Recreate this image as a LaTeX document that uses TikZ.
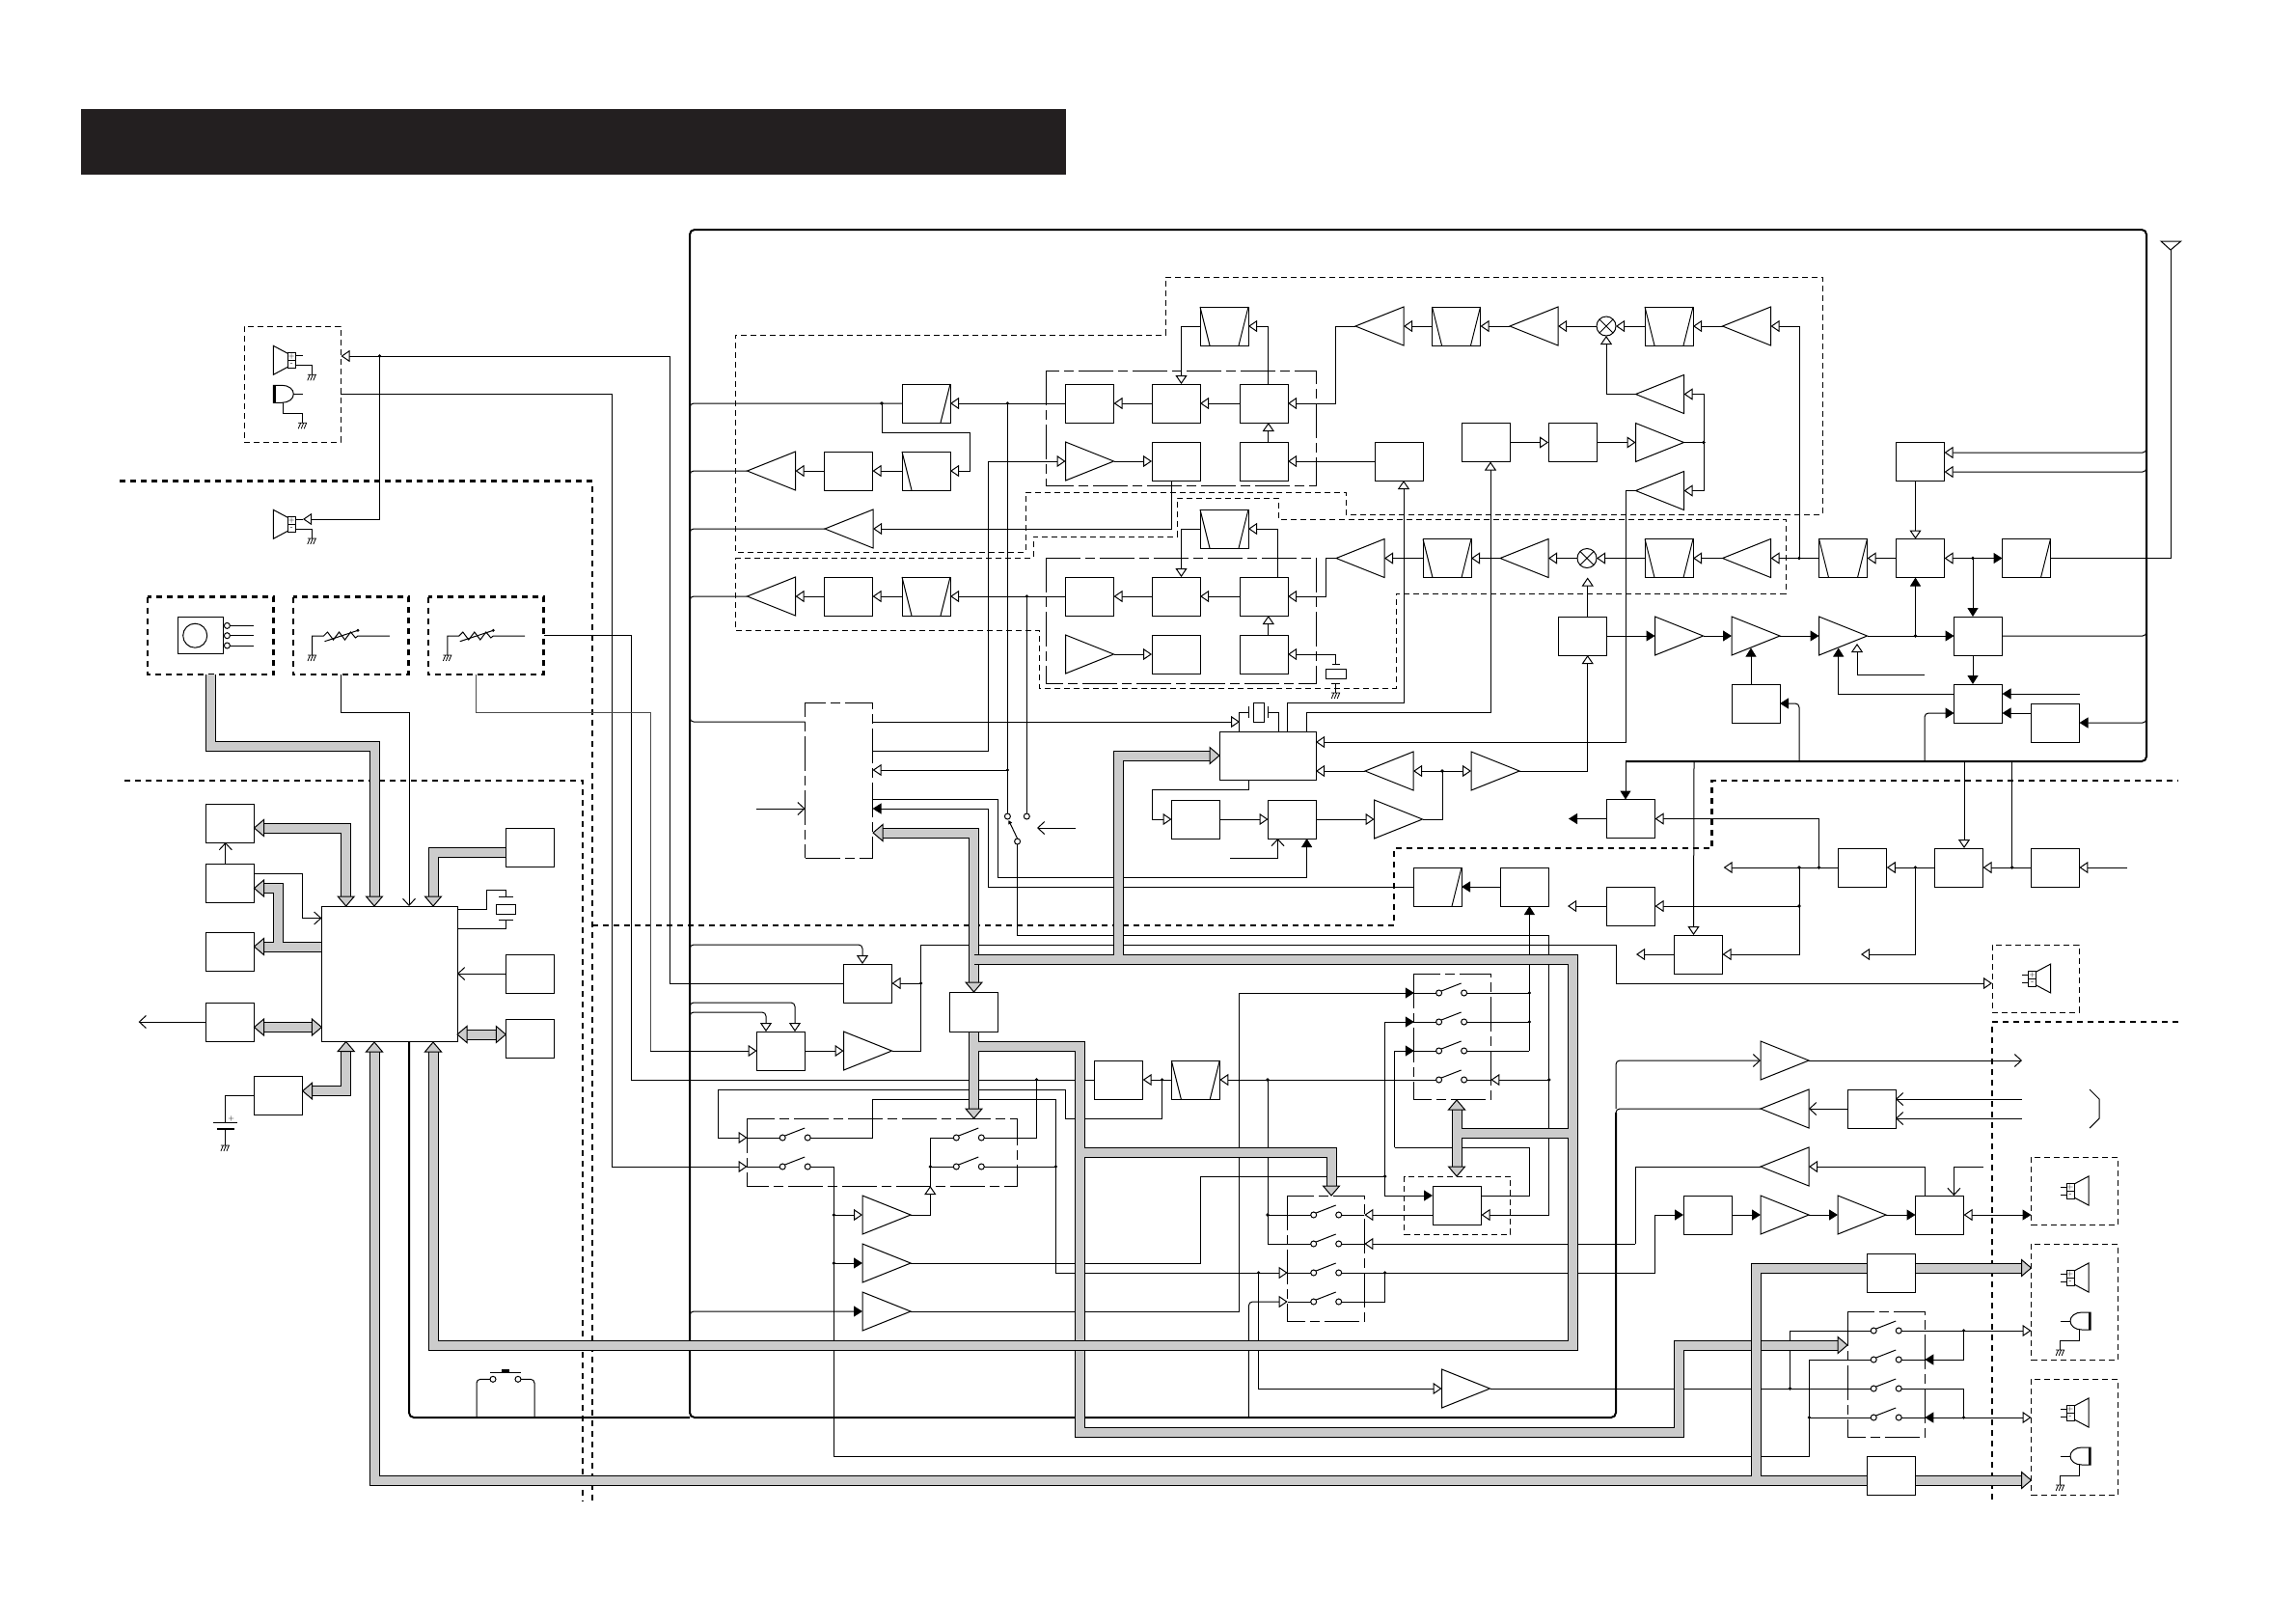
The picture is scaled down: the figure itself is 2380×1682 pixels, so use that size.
\documentclass[tikz,border=0pt]{standalone}
\usetikzlibrary{arrows.meta,calc}
\definecolor{busgrey}{HTML}{CCCCCC}
\definecolor{barcol}{HTML}{231F20}
\tikzset{
  base/.style={line width=1pt,line join=miter},
  blk/.style={draw,fill=white,minimum width=50pt,minimum height=40pt,inner sep=0pt,outer sep=0pt,rectangle},
  inv/.style={minimum width=50pt,minimum height=40pt,inner sep=0pt,outer sep=0pt,rectangle},
  cnt/.style={circle,draw,fill=white,minimum size=6pt,inner sep=0pt,outer sep=0pt},
  mixnode/.style={circle,draw,fill=white,minimum size=20pt,inner sep=0pt,outer sep=0pt},
  dsh/.style={dash pattern=on 6pt off 4pt,line width=.9pt},
  dshk/.style={dash pattern=on 6pt off 5pt,line width=2.4pt},
  ddot/.style={dash pattern=on 36pt off 5pt on 10pt off 5pt,line width=.9pt},
  opa/.style={-{Triangle[fill=white,length=9pt,width=12pt]}},
  fla/.style={-{Triangle[length=9pt,width=11pt]}},
  vba/.style={-{Straight Barb[length=7pt,width=13pt]}},
  rc/.style={rounded corners=4pt},
  frm/.style={line width=2pt,rounded corners=5pt},
}
\newcommand{\Bx}[3]{\node[blk] (#1) at (#2,#3) {};}
\newcommand{\BxS}[5]{\node[blk,minimum width=#4pt,minimum height=#5pt] (#1) at (#2,#3) {};}
\newcommand{\TrL}[3]{\node[inv] (#1) at (#2,#3) {};\draw (#1.north east) -- (#1.west) -- (#1.south east) -- cycle;}
\newcommand{\TrR}[3]{\node[inv] (#1) at (#2,#3) {};\draw (#1.north west) -- (#1.east) -- (#1.south west) -- cycle;}
\newcommand{\Tz}[3]{\Bx{#1}{#2}{#3}\draw (#1.north west) -- ($(#1.south west)+(10,0)$) (#1.north east) -- ($(#1.south east)+(-10,0)$);}
\newcommand{\TzR}[3]{\Bx{#1}{#2}{#3}\draw (#1.north east) -- ($(#1.south east)+(-10,0)$);}
\newcommand{\TzL}[3]{\Bx{#1}{#2}{#3}\draw (#1.north west) -- ($(#1.south west)+(10,0)$);}
\newcommand{\Mx}[3]{\node[mixnode] (#1) at (#2,#3) {};\draw (#1.north west) -- (#1.south east) (#1.north east) -- (#1.south west);}
\newcommand{\Dt}[2]{\fill (#1,#2) circle (1.8pt);}
\newcommand{\Gnd}[2]{\begin{scope}[shift={(#1,#2)},line width=.8pt]\draw (-4.5,0) -- (4.5,0) (-2,0) -- (-4.5,6) (1,0) -- (-1.5,6) (4,0) -- (1.5,6);\end{scope}}
\newcommand{\Sw}[3]{\node[cnt] (#1a) at (#2,#3) {};\node[cnt] (#1b) at ($(#1a)+(26,0)$) {};\draw ($(#1a)+(2.5,-2)$) -- ($(#1a)+(23,-10)$);}
\newcommand{\Bh}[3]{\draw[fill=busgrey,line width=1pt,shift={(#1,#2)},rotate=#3] (0,0) -- (-10,-8.5) -- (-10,8.5) -- cycle;}
\newcommand{\Bus}[1]{\draw[line width=11pt,black] #1;\draw[line width=9pt,busgrey] #1;}
\newcommand{\Spk}[3]{\begin{scope}[shift={(#1,#2)},xscale=#3]
  \draw (0,-7) -- (-15,-15) -- (-15,15) -- (0,7);
  \draw (0,-8) rectangle (8,8) (0,0) -- (8,0);
  \node[font=\fontsize{8}{8}\selectfont,inner sep=0pt] at (4,-4) {+};
  \node[font=\fontsize{8}{8}\selectfont,inner sep=0pt] at (4,4) {-};
\end{scope}}
\newcommand{\Mc}[3]{\begin{scope}[shift={(#1,#2)},xscale=#3]
  \draw (0,-9) -- (9,-9) .. controls (16,-9) and (21,-5) .. (21,0) .. controls (21,5) and (16,9) .. (9,9) -- (0,9) -- cycle;
  \draw[line width=2.4pt] (1,-9) -- (1,9);
\end{scope}}
\newcommand{\Pot}[2]{\begin{scope}[shift={(#1,#2)}]
  \draw (0,20.3) -- (0,0) -- (12,0) -- (16,-4) -- (22,4) -- (28,-4) -- (34,4) -- (40,-4) -- (45,2) -- (47.5,0) -- (80.3,0);
  \draw (13,5.7) -- (47.5,-5.7);\fill (47.5,-5.7) circle (1.6pt);
\end{scope}\Gnd{#1}{\the\numexpr#2+20\relax}}
\begin{document}
\begin{tikzpicture}[x=1pt,y=-1pt,base]
\useasboundingbox (0,0) rectangle (2380,1682);
\fill[white] (0,0) rectangle (2380,1682);
\fill[barcol] (83.5,113) rectangle (1105,181);
% ---------- heavy dashed partitions
\draw[dshk] (124,498.5) -- (614,498.5) -- (614,1556);
\draw[dshk] (129,809) -- (604,809) -- (604,1556);
\draw[dshk] (614,959) -- (1445,959) -- (1445,879) -- (1774.6,879) -- (1774.6,809) -- (2258,809);
\draw[dshk] (2258,1059) -- (2065,1059) -- (2065,1557);
% ---------- light dashed outlines
\draw[dsh] (1208,287) -- (1889,287) -- (1889,533) -- (1395,533) -- (1395,510) -- (1063,510) -- (1063,572) -- (762,572) -- (762,347) -- (1208,347) -- cycle;
\draw[dsh] (762,578) -- (1071,578) -- (1071,556) -- (1220,556) -- (1220,516) -- (1325,516) -- (1325,538) -- (1851,538) -- (1851,615) -- (1447,615) -- (1447,713) -- (1077,713) -- (1077,653) -- (762,653) -- cycle;
\draw[ddot] (1084,384) rectangle (1364,503);
\draw[ddot] (1084,578) rectangle (1364,708);
\draw[dsh] (1455.6,1219) rectangle (1565.7,1279);
\draw[ddot] (774.5,1159) rectangle (1054.6,1229);
\draw[ddot] (1334.7,1239) rectangle (1414.3,1369);
\draw[ddot] (1465.8,1009) rectangle (1545.4,1139);
\draw[ddot] (1915.7,1359) rectangle (1995.3,1489);
% ---------- main frame
\draw[frm] (1685,789) -- (2225,789) -- (2225,238) -- (715,238) -- (715,1469) -- (1675,1469) -- (1675,1153);
\draw[rc] (1675,1153) -- (1675,1149) -- (1825,1149);
% ---------- upper receiver chains
\TzR{fa}{960}{418}\TzL{fb}{960}{488}\Bx{ba}{879.5}{488}\TrL{ta}{799.5}{488}
\TrL{tb}{880}{548}
\TrL{tc}{799.5}{618}\Bx{bb}{879.5}{618}\Tz{fc}{960}{618}
\Bx{bc}{1129.5}{418}\Bx{bd}{1219}{418}\Bx{be}{1310}{418}
\TrR{td}{1129.5}{478}\Bx{bf}{1219}{478}\Bx{bg}{1310}{478}\Bx{bh}{1450}{478}
\Tz{fd}{1269}{338}
\Bx{bi}{1129.5}{618}\Bx{bj}{1219}{618}\Bx{bk}{1310}{618}
\TrR{te}{1129.5}{678}\Bx{bl}{1219}{678}\Bx{bm}{1310}{678}
\Tz{fe}{1269}{548}
\TrL{tf}{1430}{338}\Tz{ff}{1509.5}{338}\TrL{tg}{1590}{338}\Mx{ma}{1665}{338}\Tz{fg}{1730}{338}\TrL{th}{1810.5}{338}
\TrL{ti}{1720.5}{408.5}\TrR{tj}{1720.5}{458.5}\TrL{tk}{1720.5}{508.5}
\Bx{bn}{1630}{458.5}\Bx{bo}{1540}{458.5}
\TrL{tl}{1410}{578.5}\Tz{fh}{1500}{578.5}\TrL{tm}{1580}{578.5}\Mx{mb}{1645}{578.5}\Tz{fi}{1730}{578.5}\TrL{tn}{1810.5}{578.5}
\Tz{fj}{1910.5}{578.5}\Bx{bp}{1990.5}{578.5}\TzR{fk}{2100.5}{578.5}
\Bx{bq}{1990.5}{478.5}
\Bx{br}{1640.5}{659}\TrR{to}{1740.5}{659}\TrR{tp}{1820}{659}\TrR{tq}{1910.5}{659}\Bx{bs}{2050.5}{659}
\Bx{bt}{1820}{729}\Bx{bu}{2050.5}{729}\Bx{bv}{2130.5}{749}
\BxS{pll}{1314}{783}{100}{50}
\TrL{tr}{1440}{799}\TrR{ts}{1550}{799}\TrR{tt}{1449.5}{849}
\Bx{bw}{1239.5}{849}\Bx{bx}{1339.5}{849}
\node[inv,draw,ddot,minimum width=70pt,minimum height=161pt] (cpb) at (869.6,808.6) {};
% rows lines
\draw (715,422) [rc] -- (715,418) -- (fa.west);
\Dt{914}{418}
\draw[opa] (914,418) -- (914,448) -- (1005,448) -- (1005,488) -- (fb.east);
\draw[opa] (bc.west) -- (fa.east);
\draw[opa] (fb.west) -- (ba.east);
\draw[opa] (ba.west) -- (ta.east);
\draw[rc] (ta.west) -- (715,488) -- (715,492);
\draw[opa] (1214,498) -- (1214,548) -- (tb.east);
\draw[rc] (tb.west) -- (715,548) -- (715,552);
\draw[opa] (fc.west) -- (bb.east);
\draw[opa] (bb.west) -- (tc.east);
\draw[rc] (tc.west) -- (715,618) -- (715,622);
\draw[opa] (bi.west) -- (fc.east);
\draw[opa] (bd.west) -- (bc.east);
\draw[opa] (be.west) -- (bd.east);
\draw[opa] (fd.west) -- (1224.5,338) -- (1224.5,398);
\draw[opa] (1314,398) -- (1314,338) -- (fd.east);
\draw[opa] (tf.west) -- (1384,338) -- (1384,418) -- (be.east);
\draw[opa] (1314.8,458) -- (1314.8,438);
\draw[opa] (bh.west) -- (bg.east);
\draw[opa] (td.east) -- (bf.west);
\draw[opa] (cpb.east |- 0,778) -- (1024.5,778) -- (1024.5,478) -- (td.west);
\draw[opa] (bj.west) -- (bi.east);
\draw[opa] (bk.west) -- (bj.east);
\draw[opa] (fe.west) -- (1224.5,548) -- (1224.5,598);
\draw[opa] (1324.5,598) -- (1324.5,548) -- (fe.east);
\draw[opa] (tl.west) -- (1374.5,578.5) -- (1374.5,618) -- (bk.east);
\draw[opa] (1314.8,658) -- (1314.8,638);
\draw[opa] (te.east) -- (bl.west);
\draw[opa] (1384.7,688) -- (1384.7,678) -- (bm.east);
\draw (1381,688) -- (1389,688) (1374.5,693) rectangle (1395,703) (1380,708.7) -- (1389,708.7) (1384.7,708.7) -- (1384.7,718);
\Gnd{1384.7}{718}
% upper chain
\draw[opa] (ff.west) -- (tf.east);
\draw[opa] (tg.west) -- (ff.east);
\draw[opa] (ma.west) -- (tg.east);
\draw[opa] (fg.west) -- (ma.east);
\draw[opa] (th.west) -- (fg.east);
\draw[opa] (1865,578.5) -- (1865,338) -- (th.east);
\draw[opa] (ti.west) -- (1665,408.5) -- (ma.south);
\draw[opa] (1766,458.5) -- (1766,408.5) -- (ti.east);
\draw[opa] (1766,458.5) -- (1766,508.5) -- (tk.east);
\draw (tj.east) -- (1766,458.5);\Dt{1766}{458.5}
\draw[opa] (bo.east) -- (bn.west);
\draw[opa] (bn.east) -- (tj.west);
\draw[opa] (tk.west) -- (1685,508.5) -- (1685,769) -- (pll.east |- 0,769);
\draw[opa] (1334,758) -- (1334,728) -- (1455,728) -- (1455,498);
\draw[opa] (1354,758) -- (1354,738) -- (1545,738) -- (1545,478.5);
% row 578
\draw[opa] (fh.west) -- (tl.east);
\draw[opa] (tm.west) -- (fh.east);
\draw[opa] (mb.west) -- (tm.east);
\draw[opa] (fi.west) -- (mb.east);
\draw[opa] (tn.west) -- (fi.east);
\draw[opa] (fj.west) -- (tn.east);\Dt{1865}{578.5}
\draw[opa] (bp.west) -- (fj.east);
\draw[opa] (2045,578.5) -- (bp.east);
\draw[fla] (2045,578.5) -- (fk.west);\Dt{2045}{578.5}
\draw (fk.east) -- (2250,578.5) -- (2250,259);
\draw (2240,250) -- (2260.7,250) -- (2250,259) -- cycle;
\draw[fla] (2045,578.5) -- (2045,639);
\draw[opa] (1985.5,498.5) -- (1985.5,558.5);
\draw[opa,rc] (2225,465) -- (2225,469) -- (bq.east |- 0,469);
\draw[opa,rc] (2225,485) -- (2225,489) -- (bq.east |- 0,489);
\draw[opa] (1645.7,639) -- (1645.7,598.5);
\draw[opa] (ts.east) -- (1645.7,799) -- (1645.7,679);
\draw[fla] (br.east) -- (to.west);
\draw[fla] (to.east) -- (tp.west);
\draw[fla] (tp.east) -- (tq.west);
\draw[fla] (tq.east) -- (bs.west);\Dt{1985.5}{659}
\draw[fla] (1985.5,659) -- (1985.5,598.5);
\draw[rc] (bs.east) -- (2225,659) -- (2225,655);
\draw[fla] (2045,679) -- (2045,709);
\draw[fla] (bu.west |- 0,719) -- (1905.7,719) -- (1905.7,671.5);
\draw[opa] (1995,699) -- (1925,699) -- (1925,667);
\draw[fla] (2155.5,719) -- (bu.east |- 0,719);
\draw[fla] (bv.west |- 0,739) -- (bu.east |- 0,739);
\draw[fla,rc] (2225,745) -- (2225,749) -- (bv.east);
\draw[fla,rc] (1995,789) -- (1995,739) -- (bu.west |- 0,739);
\draw[fla] (1815,709) -- (1815,671.5);
\draw[fla,rc] (1865,789) -- (1865,729) -- (bt.east);
% pll
\draw[opa] (tr.west) -- (pll.east |- 0,799);
\draw[opa] (1495,799) -- (tr.east);
\draw[opa] (1495,799) -- (ts.west);\Dt{1495}{799}
\draw (tt.east) -- (1495,849) -- (1495,799);
\draw[opa] (bx.east) -- (tt.west);
\draw[opa] (bw.east) -- (bx.west);
\draw[opa] (1294.4,808) -- (1294.4,818) -- (1194.4,818) -- (1194.4,849) -- (bw.west);
\draw[vba] (1275,889) -- (1324.5,889) -- (1324.5,869);
\draw[fla] (cpb.east |- 0,828) -- (1034.7,828) -- (1034.7,909) -- (1354.6,909) -- (1354.6,869);
\draw (1284,758) -- (1284,738) -- (1294.4,738) (1294.4,732) -- (1294.4,744) (1299,728) rectangle (1310,748) (1314.8,732) -- (1314.8,744) (1314.8,738) -- (1325,738) -- (1325,758);
\draw[rc] (715,744) -- (715,748) -- (cpb.west |- 0,748);
\draw[opa] (cpb.east |- 0,748) -- (1285,748);
\draw[vba] (784,838) -- (cpb.west |- 0,838);
\draw[opa] (1044.4,798) -- (cpb.east |- 0,798);
% mechanical switch
\node[cnt] (ka) at (1044.4,846) {};\node[cnt] (kb) at (1064.3,846) {};\node[cnt] (kc) at (1054.6,872) {};
\draw[-{Triangle[length=4pt,width=4pt]}] (kc.north) -- (1045.5,850);
\draw[vba] (1115,858) -- (1075,858);
\draw (1044.4,418) -- (ka.north);\Dt{1044.4}{418}\Dt{1044.4}{798}
\draw (1064.3,618) -- (kb.north);\Dt{1064.3}{618}
\draw[opa] (kc.south) -- (1054.6,969) -- (1605.7,969) -- (1605.7,1259) -- (1535.5,1259);
% right hand row
\Bx{bA}{1690.5}{848.5}\Bx{bB}{1690.5}{939}\Bx{bC}{1760.5}{989}
\Bx{bD}{1930.8}{899}\Bx{bE}{2030.5}{899}\Bx{bF}{2130.4}{899}
\Bx{bG}{1580}{919}\TzR{fG}{1490}{919}
\draw[fla] (1685,789) -- (1685,828.5);
\draw[opa,rc] (1756,789) -- (1755.5,969);
\draw[opa,rc] (2036,789) -- (2036,879);
\draw[rc] (2085.7,789) -- (2085.7,899);\Dt{2085.7}{899}
\draw[opa] (bF.west) -- (bE.east);
\draw[opa] (2205,899) -- (bF.east);
\draw[opa] (bE.west) -- (bD.east);\Dt{1985.3}{899}
\draw[opa] (1985.3,899) -- (1985.3,989) -- (1929,989);
\draw[opa] (bD.west) -- (1786.7,899);\Dt{1885.5}{899}\Dt{1865}{899}
\draw[opa] (1885.5,899) -- (1885.5,848.5) -- (bA.east);
\draw[fla] (bA.west) -- (1626,848.5);
\draw[opa] (1865,899) -- (1865,989) -- (bC.east);
\draw[opa] (1865,939) -- (bB.east);\Dt{1865}{939}
\draw[opa] (bB.west) -- (1625,939);
\draw[opa] (bC.west) -- (1696,989);
\draw[fla] (bG.west) -- (fG.east);
\draw[fla] (fG.west) -- (1024.5,919) -- (1024.5,838) -- (cpb.east |- 0,838);
% lower centre
\Bx{pa}{899.5}{1019}\Bx{pb}{809.5}{1089}\TrR{pc}{899.5}{1089}
\Bx{pd}{1159.7}{1119}\Tz{pe}{1239.3}{1119}
\TrR{pf}{919}{1259}\TrR{pg}{919}{1309}\TrR{ph}{919}{1359}
\Bx{pi}{1510}{1249}
\TrR{pj}{1519.5}{1439}
\draw[opa] (694,369) -- (353.5,369);
\draw (694,369) -- (694,1019) -- (pa.west);
\draw[opa] (954.6,1019) -- (pa.east);\Dt{954.6}{1019}
\draw[opa,rc] (715,983) -- (715,979) -- (894,979) -- (894,999);
\draw[opa] (pc.east) -- (954.6,1089) -- (954.6,979) -- (1675.4,979) -- (1675.4,1019) -- (2065,1019);
\draw[opa] (pb.east) -- (pc.west);
\draw[opa] (674,1085) -- (674,1089) -- (pb.west);
\draw[opa,rc] (715,1043) -- (715,1039) -- (824,1039) -- (824,1069);
\draw[opa,rc] (715,1053) -- (715,1049) -- (794,1049) -- (794,1069);
\draw[fla,rc] (715,1363) -- (715,1359) -- (ph.west);
% switch groups
\Sw{sa}{811.2}{1179}\Sw{sb}{811.2}{1209}\Sw{sc}{991.3}{1179}\Sw{sd}{991.3}{1209}
\Sw{se}{1361.7}{1259}\Sw{sf}{1361.7}{1289}\Sw{sg}{1361.7}{1319}\Sw{sh}{1361.7}{1349}
\Sw{si}{1491.6}{1029}\Sw{sj}{1491.6}{1059}\Sw{sk}{1491.6}{1089}\Sw{sl}{1491.6}{1119}
\Sw{sm}{1942.2}{1379}\Sw{sn}{1942.2}{1409}\Sw{so}{1942.2}{1439}\Sw{sq}{1942.2}{1469}
% group 3 wiring
\draw[fla] (ph.east) -- (1284.7,1359) -- (1284.7,1029) -- (1465.8,1029);\draw (1465.8,1029) -- (sia.west);
\draw (pg.east) -- (1244.4,1309) -- (1244.4,1219) -- (1435.7,1219);\Dt{1435.7}{1219}
\draw[fla] (1435.7,1059) -- (1465.8,1059);\draw (1465.8,1059) -- (sja.west);
\draw[fla] (1435.7,1059) -- (1435.7,1239) -- (pi.west |- 0,1239);
\draw[fla] (1445.5,1189) -- (1445.5,1089) -- (1465.8,1089);\draw (1465.8,1089) -- (ska.west);
\draw (1445.5,1189) -- (1585.4,1189) -- (1585.4,1239) -- (pi.east |- 0,1239);
\draw[opa] (sla.west) -- (pe.east);\Dt{1314}{1119}
\draw (1314,1119) -- (1314,1289) -- (sfa.west);
\draw (1314,1259) -- (sea.west);\Dt{1314}{1259}
\draw (sib.east) -- (1585.4,1029);\draw (sjb.east) -- (1585.4,1059);\draw (skb.east) -- (1585.4,1089);
\Dt{1585.4}{1029}\Dt{1585.4}{1059}
\draw[fla] (1585.4,1089) -- (1585.4,939);
\draw (slb.east) -- (1545.4,1119);\draw[opa] (1605.7,1119) -- (1545.4,1119);\Dt{1605.7}{1119}
% group 2 wiring
\draw[opa] (pi.west |- 0,1259) -- (1414.3,1259);\draw (1414.3,1259) -- (seb.east);
\draw[opa] (1695,1289) -- (1414.3,1289);\draw (1414.3,1289) -- (sfb.east);
\draw[opa] (1094.4,1319) -- (1334.7,1319);\draw (1334.7,1319) -- (sga.west);\Dt{1304.6}{1319}
\draw[fla] (sgb.east) -- (1715,1319) -- (1715,1259) -- (1745,1259);\Dt{1435.7}{1319}
\draw (shb.east) -- (1435.7,1349) -- (1435.7,1319);
\draw[opa,rc] (1294.4,1469) -- (1294.4,1349) -- (1334.7,1349);\draw (1334.7,1349) -- (sha.west);
\draw[opa] (1304.6,1319) -- (1304.6,1439) -- (pj.west);
% group 4 wiring
\draw (pj.east) -- (soa.west);\Dt{1855.5}{1439}
\draw (1855.5,1439) -- (1855.5,1379) -- (sma.west);
\draw (sna.west) -- (1875.4,1409) -- (1875.4,1509) -- (864.3,1509) -- (864.3,1209) -- (sbb.east);
\draw (sqa.west) -- (1875.4,1469);\Dt{1875.4}{1469}
\draw[opa] (smb.east) -- (2105.5,1379);\Dt{2035.6}{1379}
\draw[fla] (2035.6,1379) -- (2035.6,1409) -- (1995.3,1409);\draw (1995.3,1409) -- (snb.east);
\draw (sob.east) -- (2035.6,1439) -- (2035.6,1469);
\draw[fla] (2035.6,1469) -- (1995.3,1469);\draw (1995.3,1469) -- (sqb.east);
\draw[opa] (2035.6,1469) -- (2105.5,1469);\Dt{2035.6}{1469}
% group 1 wiring
\draw[opa] (1204.6,1119) -- (1204.6,1159) -- (1104.6,1159) -- (1104.6,1129) -- (744.4,1129) -- (744.4,1179) -- (774.5,1179);
\draw (774.5,1179) -- (saa.west);
\draw (sab.east) -- (904.6,1179) -- (904.6,1139) -- (1094.4,1139) -- (1094.4,1319);
\draw (774.5,1209) -- (sba.west);
\draw[opa] (864.3,1259) -- (pf.west);\Dt{864.3}{1259}
\draw[fla] (864.3,1309) -- (pg.west);\Dt{864.3}{1309}
\draw (sca.west) -- (964.3,1179) -- (964.3,1229);
\draw[opa] (pf.east) -- (964.3,1259) -- (964.3,1229);\Dt{964.3}{1209}
\draw (sda.west) -- (964.3,1209);
\draw (scb.east) -- (1074.5,1179) -- (1074.5,1119);\Dt{1074.5}{1119}
\draw (sdb.east) -- (1094.4,1209);\Dt{1094.4}{1209}
\draw[opa] (pe.west) -- (pd.east);\Dt{1204.6}{1119}
% cross wiring from the left
\draw (353,408.5) -- (634,408.5) -- (634,1209);
\draw[opa] (634,1209) -- (774.5,1209);
\draw (563.5,658.7) -- (654.4,658.7) -- (654.4,1119) -- (pd.west);
% far right block
\TrR{qa}{1850}{1099}\TrL{qb}{1850}{1149}\Bx{qc}{1940}{1149}
\TrL{qd}{1850}{1209}\Bx{qe}{1770}{1259}\TrR{qf}{1850}{1259}\TrR{qg}{1930}{1259}\Bx{qh}{2010.5}{1259}
\draw[vba,rc] (1675,1149) -- (1675,1099) -- (qa.west);
\draw[vba] (qa.east) -- (2096,1099);
\draw[vba] (qc.west) -- (qb.east);
\draw[vba] (2096,1139) -- (qc.east |- 0,1139);
\draw[vba] (2096,1159) -- (qc.east |- 0,1159);
\draw (2166,1129) -- (2176,1139) -- (2176,1159) -- (2166,1169);
\draw[opa] (1995.3,1239) -- (1995.3,1209) -- (qd.east);
\draw (qd.west) -- (1695,1209) -- (1695,1289);
\draw[vba] (2055.5,1209) -- (2025.4,1209) -- (2025.4,1239);
\draw[fla] (qe.east) -- (qf.west);
\draw[fla] (qf.east) -- (qg.west);
\draw[fla] (qg.east) -- (qh.west);
\draw[opa] (2062,1259) -- (qh.east);
\draw[fla] (2062,1259) -- (2105.5,1259);
% top-left audio
\node[inv,draw,dsh,minimum width=100pt,minimum height=120pt] (aud) at (303,398) {};
\Spk{298.3}{373.3}{1}
\draw (306.3,368.3) -- (313.7,368.3) (306.3,378.7) -- (323.3,378.7) -- (323.3,388.3);\Gnd{323.3}{388.3}
\Mc{283.3}{408.3}{1}
\draw (304.3,408.3) -- (313.7,408.3) (293.3,417.3) -- (293.3,428.3) -- (313.7,428.3) -- (313.7,438.3);\Gnd{313.7}{438.3}
\Spk{298.3}{543.3}{1}
\draw[opa] (393.5,369) -- (393.5,538) -- (314,538);\Dt{393.5}{369}
\draw (306.3,538) -- (314,538) (306.3,548.5) -- (323.3,548.5) -- (323.3,558);\Gnd{323.3}{558}
% three dashed input boxes
\draw[dshk] (153,618.5) rectangle (283.6,699);
\draw[dshk] (303.8,618.5) rectangle (423.6,699);
\draw[dshk] (443.7,618.5) rectangle (563.5,699);
\draw (184.4,639.7) rectangle (231.5,677.6);
\draw (202.2,658.7) circle (12.5pt);
\node[cnt,minimum size=6pt] (jb) at (235.4,658.7) {};\node[cnt] (ja) at (235.4,648.4) {};\node[cnt] (jc) at (235.4,669) {};
\draw (ja.east) -- (263,648.4) (jb.east) -- (263,658.7) (jc.east) -- (263,669);
\Pot{323.5}{659}
\Pot{463.8}{659}
\draw[vba] (353,699) -- (353,738.5) -- (424,738.5) -- (424,939);
\draw[draw=black!70] (493.5,699) -- (493.5,738.5) -- (674,738.5) -- (674,1089);
% cpu region
\BxS{cpu}{403.7}{1009}{140.6}{140}
\Bx{lb}{238.3}{853}\Bx{lc}{238.3}{915.5}\Bx{ld}{238.3}{986}\Bx{le}{238.3}{1059}\Bx{lf}{288.6}{1135.7}
\Bx{ra}{549.4}{878.7}\Bx{rb}{549.4}{1009}\Bx{rd}{549.4}{1076.7}
\draw[vba] (lc.north -| 233.8,0) -- (lb.south -| 233.8,0);
\draw[vba] (lc.east |- 0,905.5) -- (313.7,905.5) -- (313.7,951.5) -- (cpu.west |- 0,951.5);
\draw[vba] (le.west) -- (143.7,1059);
\draw[vba] (rb.west) -- (cpu.east);
\draw (lf.west |- 0,1135) -- (233.4,1135) -- (233.4,1163.5) (221,1163.5) -- (246,1163.5);
\draw[line width=2.2pt] (224.5,1169.6) -- (243,1169.6);
\draw (233.4,1169.6) -- (233.4,1187);\Gnd{233.4}{1187}
\node[font=\fontsize{8}{8}\selectfont,inner sep=0pt] at (239.8,1159) {+};
\draw (cpu.east |- 0,942) -- (504,942) -- (504,922.8) -- (524.3,922.8) -- (524.3,929.6) (517,929.6) -- (532,929.6) (514,937) rectangle (534.6,947.5) (517,953) -- (532,953) (524.3,953) -- (524.3,962) -- (cpu.east |- 0,962);
% thick left return and button
\draw[frm] (cpu.south -| 424,0) -- (424,1469) -- (715,1469);
\node[cnt] (bta) at (511,1429.3) {};\node[cnt] (btb) at (537,1429.3) {};
\draw (508,1422.7) -- (540,1422.7);\fill (520,1419) rectangle (528,1423);
\draw[rc] (494,1469) -- (494,1429.3) -- (bta.west);
\draw[rc] (554,1469) -- (554,1429.3) -- (btb.east);
% speaker boxes lower right
\node[inv,draw,dsh,minimum width=90pt,minimum height=70pt] (spkbox) at (2110,1014) {};
\Spk{2110.7}{1014}{-1}
\draw (2102.7,1010) -- (2095.6,1010) (2102.7,1018) -- (2095.6,1018);
\draw[dsh] (2105.5,1199) rectangle (2195.3,1269);
\draw[dsh] (2105.5,1289) rectangle (2195.3,1409);
\draw[dsh] (2105.5,1429) rectangle (2195.3,1549);
\Spk{2150}{1234}{-1}\Spk{2150}{1324}{-1}\Spk{2150}{1464}{-1}
\draw (2142,1230) -- (2135.6,1230) (2142,1238) -- (2135.6,1238);
\draw (2142,1320) -- (2135.6,1320) (2142,1328) -- (2135.6,1328);
\draw (2142,1460) -- (2135.6,1460) (2142,1468) -- (2135.6,1468);
\Mc{2167}{1369}{-1}\Mc{2167}{1509}{-1}
\draw (2146,1369) -- (2135.6,1369) (2155.5,1378) -- (2155.5,1389) -- (2135.6,1389) -- (2135.6,1399);\Gnd{2135.6}{1399}
\draw (2146,1509) -- (2135.6,1509) (2155.5,1518) -- (2155.5,1529) -- (2135.6,1529) -- (2135.6,1539);\Gnd{2135.6}{1539}
% ---------- buses
\Bus{(915,863) -- (1009.5,863) -- (1009.5,1018) (1009.5,1069) -- (1009.5,1149) (1009.5,1084) -- (1119.5,1084) -- (1119.5,1484) -- (1740,1484) -- (1740,1394) -- (1905,1394) (1119.5,1194) -- (1380,1194) -- (1380,1229)}
\Bus{(1009.5,994) -- (1630.5,994) -- (1630.5,1394) -- (449,1394) -- (449,1090) (1159,994) -- (1159,783) -- (1254,783) (1630.5,1174) -- (1510,1174) (1510,1150) -- (1510,1209)}
\fill[busgrey] (1005.2,989.8) rectangle (1015,998.2);
\Bus{(388,1090) -- (388,1534) -- (2095,1534) (1820.5,1534) -- (1820.5,1314) -- (2095,1314)}
\Bus{(218.5,699) -- (218.5,773) -- (388,773) -- (388,929)}
\Bus{(358.7,929) -- (358.7,858) -- (273.5,858)}
\Bus{(333.4,981) -- (273.5,981) (288.5,981) -- (288.5,920.5) -- (273.5,920.5)}
\Bus{(524.3,883) -- (449,883) -- (449,929)}
\Bus{(273.5,1064.5) -- (323.4,1064.5)}
\Bus{(358.7,1089.5) -- (358.7,1130.6) -- (323.7,1130.6)}
\Bus{(484,1072) -- (514.3,1072)}
\Bh{905}{863}{180}\Bh{1009.5}{1028}{-90}\Bh{1009.5}{1159}{-90}\Bh{1264}{783}{0}\Bh{1380}{1239}{-90}\Bh{1915}{1394}{0}
\Bh{449}{1080}{90}\Bh{1510}{1140}{90}\Bh{1510}{1219}{-90}
\Bh{388}{1080}{90}\Bh{2105.5}{1534}{0}\Bh{2105.5}{1314}{0}\Bh{388}{939}{-90}\Bh{358.7}{939}{-90}\Bh{263.5}{858}{180}
\Bh{263.5}{981}{180}\Bh{263.5}{920.5}{180}\Bh{449}{939}{-90}\Bh{263.5}{1064.5}{180}\Bh{333.4}{1064.5}{0}
\Bh{358.7}{1079.5}{90}\Bh{313.7}{1130.6}{180}\Bh{474}{1072}{180}\Bh{524.3}{1072}{0}
\BxS{pk}{1009.5}{1048.5}{50}{41}
\Bx{py}{1960.5}{1319}\Bx{pz}{1960.5}{1529}
\end{tikzpicture}
\end{document}
